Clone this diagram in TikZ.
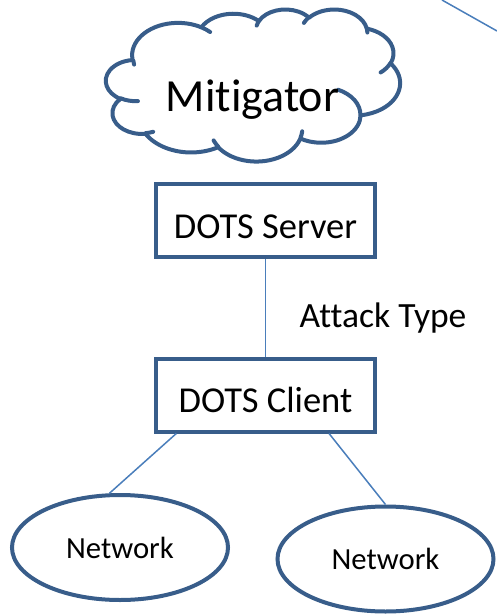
\documentclass[tikz,border=0pt]{standalone}
\usepackage{fontspec}
\setmainfont{Carlito}[Ligatures=NoCommon]
\usetikzlibrary{shapes.geometric,calc}
\definecolor{shapeblue}{HTML}{385D8A}
\definecolor{lineblue}{HTML}{4A7EBB}
\tikzset{
  % elliptical arc given by radii and visual start/sweep angles (degrees)
  cloudarc/.code n args={4}{%
    \pgfmathsetmacro\cloudst{atan2(#1*sin(#3),#2*cos(#3))}%
    \pgfmathsetmacro\clouden{atan2(#1*sin(#3+#4),#2*cos(#3+#4))}%
    \pgfmathsetmacro\clouddl{mod(\clouden-\cloudst+720,360)}%
    \tikzset{insert path/.expanded={arc[x radius=#1,y radius=#2,start angle=\cloudst,delta angle=\clouddl]}}},
  outline/.style={draw=shapeblue, line width=4pt},
  boxnode/.style={outline, rectangle, minimum width=219pt, minimum height=73pt,
    inner sep=0pt, text height=35pt, text depth=0pt,
    font=\fontsize{36.5}{40}\selectfont},
  netnode/.style={outline, ellipse, minimum width=216pt, minimum height=105pt,
    inner sep=0pt, font=\fontsize{30.7}{34}\selectfont},
  link/.style={draw=lineblue, line width=1.5pt},
}
\begin{document}
\begin{tikzpicture}[x=1pt,y=-1pt]
\useasboundingbox (0,0) rectangle (497,615);

% cloud outline and its inner curls
\begin{scope}[shift={(106,9)}, x=0.6806pt, y=-0.3519pt]
  \draw[outline, fill=white, line join=round]
    (39,143.7)
    [cloudarc={67.53}{91.90}{-190.4875}{123.7805}]
    [cloudarc={53.33}{72.67}{-144.1024}{89.9452}]
    [cloudarc={43.65}{59.45}{-145.8079}{99.7230}]
    [cloudarc={48.57}{65.95}{-130.9861}{117.2417}]
    [cloudarc={53.33}{72.73}{-78.7089}{109.0269}]
    [cloudarc={67.75}{92.20}{-46.2673}{130.2690}]
    [cloudarc={57.85}{78.67}{0.6250}{114.0333}]
    [cloudarc={67.52}{92.15}{22.4516}{115.1726}]
    [cloudarc={77.20}{105.43}{66.2426}{75.7110}]
    [cloudarc={43.60}{59.18}{-274.9421}{146.7356}]
    [cloudarc={43.45}{59.45}{-246.8285}{152.5189}]
    -- cycle;
  \draw[outline, line cap=round]
    (46.93,261.77) [cloudarc={43.45}{59.45}{86.742}{26.4295}]
    (69.28,348.99) [cloudarc={43.60}{59.18}{73.6105}{11.4475}]
    (164.78,390.90) [cloudarc={67.52}{92.15}{137.6242}{14.0811}]
    (288.27,347.51) [cloudarc={67.52}{92.15}{6.4533}{15.9984}]
    (341.29,229.54) [cloudarc={57.85}{78.67}{-70.2924}{70.9174}]
    (417.98,153.54) [cloudarc={53.33}{72.73}{30.3180}{27.7515}]
    (383.24,54.26) [cloudarc={48.57}{65.95}{-13.7443}{14.8589}]
    (290.78,39.52) [cloudarc={48.57}{65.95}{-149.1815}{18.1954}]
    (221.41,47.20) [cloudarc={43.65}{59.45}{-163.4943}{19.5022}]
    (140.00,51.92) [cloudarc={67.53}{91.90}{-66.7070}{12.3194}]
    (41.27,157.89) [cloudarc={67.53}{91.90}{164.3694}{9.4842}];
\end{scope}
\node[anchor=base, font=\fontsize{46}{50}\selectfont] (mitigator) at (252.5,112) {Mitigator};

% line leaving the picture at the top right
\coordinate (edgeA) at (442,0);
\coordinate (edgeB) at (497,31);
\draw[link] (edgeA) -- (edgeB);

% DOTS boxes
\node[boxnode] (server) at (265.5,220.5) {DOTS Server};
\node[boxnode] (client) at (265.5,395) {DOTS Client};
\draw[link] (server) -- (client);
\node[anchor=base, font=\fontsize{35.5}{40}\selectfont] (attack) at (383,327) {Attack Type};

% networks
\node[netnode] (net1) at (120,547.5) {Network};
\node[netnode] (net2) at (385.5,559) {Network};
\draw[link] ($(client.south west)!0.1!(client.south east)$) -- (net1.101);
\draw[link] ($(client.south west)!0.785!(client.south east)$) -- (net2.north);
\end{tikzpicture}
\end{document}
